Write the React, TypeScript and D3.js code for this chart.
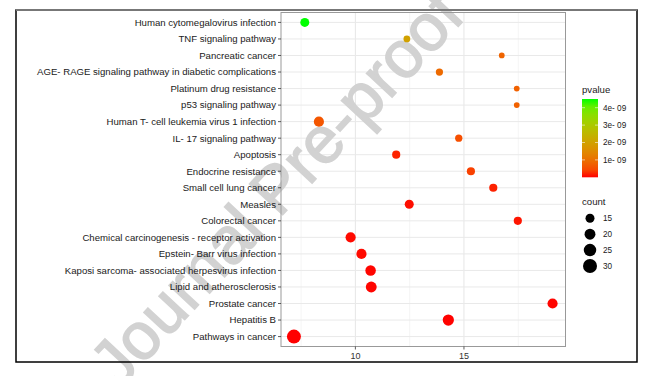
import React from "react";
import * as d3 from "d3";

const categories = [
  "Human cytomegalovirus infection",
  "TNF signaling pathway",
  "Pancreatic cancer",
  "AGE- RAGE signaling pathway in diabetic complications",
  "Platinum drug resistance",
  "p53 signaling pathway",
  "Human T- cell leukemia virus 1 infection",
  "IL- 17 signaling pathway",
  "Apoptosis",
  "Endocrine resistance",
  "Small cell lung cancer",
  "Measles",
  "Colorectal cancer",
  "Chemical carcinogenesis -  receptor activation",
  "Epstein- Barr virus infection",
  "Kaposi sarcoma- associated herpesvirus infection",
  "Lipid and atherosclerosis",
  "Prostate cancer",
  "Hepatitis B",
  "Pathways in cancer",
];
const xValues = [7.67, 12.37, 16.74, 13.87, 17.43, 17.43, 8.32, 14.76, 11.88, 15.32, 16.35, 12.48, 17.48, 9.78, 10.28, 10.7, 10.73, 19.08, 14.28, 7.17];
const counts = [15, 10, 8, 11, 8, 8, 18, 11, 13, 13, 13, 15, 13, 18, 18, 19, 20, 18, 21, 30];
const pvalues = [4.5e-9, 2.0e-9, 0.8e-9, 0.9e-9, 0.75e-9, 0.75e-9, 0.6e-9, 0.5e-9, 0.12e-9, 0.35e-9, 0.1e-9, 0.03e-9, 0.05e-9, 0.02e-9, 0.02e-9, 0.01e-9, 0.01e-9, 0.01e-9, 0.005e-9, 1e-15];
const xTicks = [10, 15];
const xMinor = [7.5, 12.5, 17.5];
const pTicks = [1e-9, 2e-9, 3e-9, 4e-9];
const pTickLabels = ["1e- 09", "2e- 09", "3e- 09", "4e- 09"];
const countBreaks = [15, 20, 25, 30];

const FONT = "'Liberation Sans', Arial, sans-serif";

export default function App() {
  const left = 281, right = 565.5, top = 12.5, bottom = 346.5;
  const ext = d3.extent(xValues) as [number, number];
  const pad = (ext[1] - ext[0]) * 0.05;
  const x = d3.scaleLinear().domain([ext[0] - pad, ext[1] + pad]).range([left, right]);
  const y = d3.scalePoint<string>().domain(categories).range([top, bottom]).padding(0.6);
  const size = d3.scaleSqrt().domain([15, 30]).range([4.5, 7]);
  const pext = d3.extent(pvalues) as [number, number];
  const color = d3.scaleLinear<string>().domain(pext).range(["#ff0000", "#00ff00"]).interpolate(d3.interpolateLab);

  const barTop = 99, barBottom = 177.3, barLeft = 582, barRight = 598;
  const py = d3.scaleLinear().domain(pext).range([barBottom, barTop]);
  const stops = d3.range(0, 11).map((i) => pext[0] + (pext[1] - pext[0]) * (i / 10));

  const legendY = d3.scalePoint<number>().domain(countBreaks).range([218.3, 266]);

  return (
    <svg width={671} height={376} style={{ position: "absolute", left: 0, top: 0 }}>
      <rect x={0} y={0} width={671} height={376} fill="#fff" />
      <defs>
        <linearGradient id="pg" x1="0" y1="1" x2="0" y2="0">
          {stops.map((s, i) => (
            <stop key={i} offset={`${i * 10}%`} stopColor={color(s)} />
          ))}
        </linearGradient>
      </defs>

      {/* grid */}
      {xMinor.map((v) => (
        <line key={"mi" + v} x1={x(v)} x2={x(v)} y1={top} y2={bottom} stroke="#f2f2f2" strokeWidth={0.8} />
      ))}
      {xTicks.map((v) => (
        <line key={"ma" + v} x1={x(v)} x2={x(v)} y1={top} y2={bottom} stroke="#e6e6e6" strokeWidth={1} />
      ))}
      {categories.map((c) => (
        <line key={"h" + c} x1={left} x2={right} y1={y(c)} y2={y(c)} stroke="#e9e9e9" strokeWidth={1} />
      ))}

      {/* watermark */}
      <text
        x={0}
        y={0}
        transform="translate(280,192) rotate(-47)"
        textAnchor="middle"
        dominantBaseline="middle"
        fontFamily={FONT}
        fontSize={66}
        fill="#d2d2d2"
        stroke="#d2d2d2"
        strokeWidth={1.5}
      >
        Journal Pre-proof
      </text>

      {/* outer frame */}
      <rect x={16} y={10} width={621} height={352} fill="none" stroke="#000" strokeWidth={1.5} />
      <line x1={16} x2={637} y1={10} y2={10} stroke="#777" strokeWidth={2} />

      {/* points */}
      {categories.map((c, i) => (
        <circle key={"p" + c} cx={x(xValues[i])} cy={y(c)} r={size(counts[i])} fill={color(pvalues[i])} />
      ))}

      <rect x={left} y={top} width={right - left} height={bottom - top} fill="none" stroke="#999" strokeWidth={1} />

      {/* y axis */}
      {categories.map((c) => (
        <g key={"yl" + c}>
          <line x1={left - 3} x2={left} y1={y(c)} y2={y(c)} stroke="#333" strokeWidth={0.8} />
          <text x={left - 5} y={y(c)} dy="0.35em" textAnchor="end" fontFamily={FONT} fontSize={9.6} fill="#1a1a1a">
            {c}
          </text>
        </g>
      ))}
      {/* x axis */}
      {xTicks.map((v) => (
        <g key={"xt" + v}>
          <line x1={x(v)} x2={x(v)} y1={bottom} y2={bottom + 3} stroke="#333" strokeWidth={0.8} />
          <text x={x(v)} y={bottom + 12.5} textAnchor="middle" fontFamily={FONT} fontSize={9} fill="#333">
            {v}
          </text>
        </g>
      ))}

      {/* pvalue legend */}
      <text x={barLeft} y={93} fontFamily={FONT} fontSize={9.6} fill="#1a1a1a">pvalue</text>
      <rect x={barLeft} y={barTop} width={barRight - barLeft} height={barBottom - barTop} fill="url(#pg)" />
      {pTicks.map((p, i) => (
        <g key={"pt" + p}>
          <line x1={barLeft} x2={barLeft + 3} y1={py(p)} y2={py(p)} stroke="#fff" strokeOpacity={0.7} strokeWidth={0.8} />
          <line x1={barRight - 3} x2={barRight} y1={py(p)} y2={py(p)} stroke="#fff" strokeOpacity={0.7} strokeWidth={0.8} />
          <text x={603} y={py(p)} dy="0.35em" fontFamily={FONT} fontSize={8.2} fill="#1a1a1a">
            {pTickLabels[i]}
          </text>
        </g>
      ))}

      {/* count legend */}
      <text x={582} y={205} fontFamily={FONT} fontSize={9.6} fill="#1a1a1a">count</text>
      {countBreaks.map((c) => (
        <g key={"cl" + c}>
          <circle cx={590} cy={legendY(c)} r={size(c)} fill="#000" />
          <text x={603} y={legendY(c)} dy="0.35em" fontFamily={FONT} fontSize={8.2} fill="#1a1a1a">
            {c}
          </text>
        </g>
      ))}
    </svg>
  );
}
